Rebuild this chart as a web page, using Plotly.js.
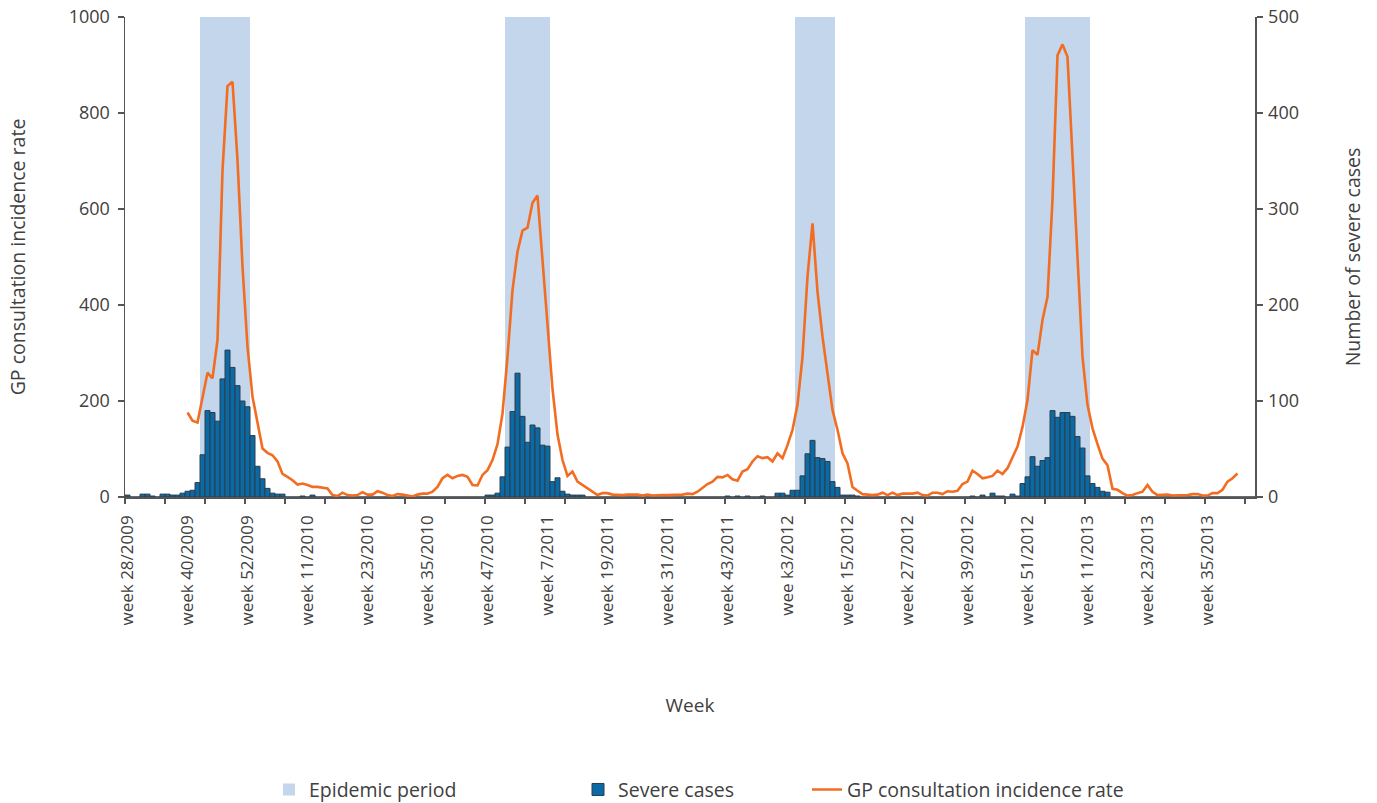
<!DOCTYPE html>
<html><head><meta charset="utf-8">
<script src="https://cdn.plot.ly/plotly-3.0.1.min.js"></script>
<style>html,body{margin:0;padding:0;background:#fff}#chart{width:1377px;height:803px}</style>
</head><body><div id="chart"></div>
<script>
// ---- data ----
const startWeek = 28, startYear = 2009;
const weeksInYear = {2009: 53, 2010: 52, 2011: 52, 2012: 52, 2013: 52};
const nWeeks = 226;

// Severe cases (right axis), one value per week starting week 28/2009
const severeCases = [
  2,0,0,3,3,1,0,3,3,2,
  2,4,6,7,15,44,90,88,79,123,
  153,135,116,100,94,64,32,19,9,4,
  3,3,0,0,0,1,0,2,0,0,
  0,0,0,0,0,0,0,0,0,0,
  0,0,0,0,0,0,0,0,0,0,
  0,0,0,0,0,0,0,0,0,0,
  0,0,2,2,4,21,52,89,129,84,
  57,75,72,54,53,16,20,6,3,2,
  2,2,0,0,0,0,0,0,0,0,
  0,0,0,0,0,0,0,0,0,0,
  0,0,0,0,0,0,0,0,0,0,
  1,0,1,0,1,0,0,1,0,0,
  4,4,2,7,7,22,45,59,41,40,
  37,16,10,2,2,2,1,0,0,0,
  0,0,0,0,0,0,0,0,0,0,
  0,0,0,0,0,0,0,0,0,1,
  0,2,0,4,1,1,0,3,1,14,
  21,42,32,38,41,90,83,88,88,84,
  63,51,22,14,10,6,5,0,0,0,
  0,0,0,0,0,0,0,0,0,0,
  0,0,0,0,0,0,0,0,0,0,
  0,0,0,0,0,0
];

// GP consultation incidence rate (left axis)
const gpRate = [
  null,null,null,null,null,null,null,null,null,null,
  null,null,176,159,155,206,259,247,327,680,
  856,865,702,480,313,209,157,101,92,87,
  74,48,42,35,26,28,25,21,21,20,
  18,4,2,9,4,3,4,10,5,5,
  12,9,4,2,6,5,3,1,5,7,
  7,11,21,39,46,39,44,46,42,25,
  24,46,56,77,110,174,292,431,511,555,
  561,613,628,500,360,225,130,77,44,53,
  32,25,18,11,4,8,8,5,4,4,
  5,5,5,3,5,3,4,4,4,4,
  5,5,7,6,11,20,27,32,42,41,
  46,37,34,53,58,74,85,81,83,74,
  91,81,108,140,192,292,459,570,428,334,
  258,181,140,91,70,21,13,6,5,4,
  5,9,4,9,4,7,7,7,9,4,
  3,9,9,6,12,11,13,27,32,55,
  48,39,41,44,55,48,60,83,105,146,
  202,306,296,369,417,620,920,943,917,709,
  501,292,192,143,110,80,66,17,15,8,
  3,4,8,11,25,11,4,5,5,3,
  3,3,4,6,6,3,3,8,8,15,
  32,39,49,null,null,null
];

const tickWeeks = ["28/2009","40/2009","52/2009","11/2010","23/2010","35/2010","47/2010","7/2011","19/2011","31/2011","43/2011","3/2012","15/2012","27/2012","39/2012","51/2012","11/2013","23/2013","35/2013"];
const tickLabels = ["week 28/2009","week 40/2009","week 52/2009","week 11/2010","week 23/2010","week 35/2010","week 47/2010","week 7/2011","week 19/2011","week 31/2011","week 43/2011","wee k3/2012","week 15/2012","week 27/2012","week 39/2012","week 51/2012","week 11/2013","week 23/2013","week 35/2013"];

const epidemicStart = ["43/2009","51/2010","5/2012","51/2012"];
const epidemicEnd   = ["52/2009","7/2011","12/2012","11/2013"];
const epidemicTop = 1000;

// ---- build ----
const weekLabels = [];
{ let w = startWeek, y = startYear;
  for (let i = 0; i < nWeeks; i++) { weekLabels.push(w + '/' + y); w++; if (w > weeksInYear[y]) { w = 1; y++; } } }
const idx = weekLabels.map((_, i) => i);
const widx = s => weekLabels.indexOf(s);

const epiX = [], epiW = [], epiY = [];
for (let k = 0; k < epidemicStart.length; k++) {
  const s = widx(epidemicStart[k]), e = widx(epidemicEnd[k]);
  epiX.push((s + e) / 2); epiW.push(e - s + 1); epiY.push(epidemicTop);
}
const minorTicks = [];
for (let v = -0.5; v <= nWeeks - 0.5; v += 8) minorTicks.push(v);

const FONT = 'Open Sans, sans-serif';
const TXT = '#404040';
const AX = '#555555';

const traces = [
  {type: 'bar', name: 'Epidemic period', x: epiX, y: epiY, width: epiW,
   marker: {color: '#c3d6eb', line: {width: 0}}, xaxis: 'x', yaxis: 'y',
   legend: 'legend', hoverinfo: 'skip'},
  {type: 'bar', name: 'Severe cases', x: idx, y: severeCases, width: 1,
   marker: {color: '#0a6aa6', line: {color: '#2e3c48', width: 1}}, xaxis: 'x', yaxis: 'y2',
   legend: 'legend2'},
  {type: 'scatter', mode: 'lines', name: 'GP consultation incidence rate', x: idx, y: gpRate,
   line: {color: '#f26d21', width: 2.6}, xaxis: 'x2', yaxis: 'y3', legend: 'legend3'}
];

const rng = [-0.5, nWeeks - 0.5];
const legY = -0.61;
const legFont = {size: 19.5, color: TXT};
const layout = {
  width: 1377, height: 803,
  margin: {l: 125, r: 122, t: 17, b: 306, autoexpand: false},
  paper_bgcolor: '#fff', plot_bgcolor: 'rgba(0,0,0,0)',
  font: {family: FONT, size: 18, color: TXT},
  barmode: 'overlay', bargap: 0,
  showlegend: true,
  xaxis: {range: rng, showgrid: false, zeroline: false, showline: true, linecolor: AX, linewidth: 1.5,
          tickmode: 'array', tickvals: tickWeeks.map(widx), ticktext: tickLabels, ticks: '',
          tickangle: -90, tickfont: {size: 17, color: TXT}, ticklabelstandoff: 10, automargin: false,
          title: {text: 'Week', font: {size: 19, color: TXT}, standoff: 74}},
  xaxis2: {range: rng, overlaying: 'x', anchor: 'y', side: 'bottom', showgrid: false, zeroline: false,
           showline: false, tickmode: 'array', tickvals: minorTicks, showticklabels: false,
           ticks: 'outside', ticklen: 6, tickcolor: AX, tickwidth: 1.5, automargin: false},
  yaxis: {range: [0, 1000], tickmode: 'array', tickvals: [0,200,400,600,800,1000], showgrid: false, zeroline: false,
          showline: true, linecolor: AX, linewidth: 1.5, ticks: 'outside', ticklen: 6, tickcolor: AX,
          tickwidth: 1.5, tickfont: {size: 18, color: TXT}, ticklabelstandoff: 4, automargin: false,
          title: {text: 'GP consultation incidence rate', font: {size: 19.5, color: TXT}, standoff: 38}},
  yaxis2: {range: [0, 500], overlaying: 'y', side: 'right', anchor: 'x', tickmode: 'array',
           tickvals: [0,100,200,300,400,500], showgrid: false, zeroline: false, showline: true,
           linecolor: AX, linewidth: 1.5, ticks: 'outside', ticklen: 6, tickcolor: AX, tickwidth: 1.5,
           tickfont: {size: 18, color: TXT}, ticklabelstandoff: 2, automargin: false,
           title: {text: 'Number of severe cases', font: {size: 19.5, color: TXT}, standoff: 48}},
  yaxis3: {range: [0, 1000], overlaying: 'y', anchor: 'x2', visible: false},
  legend:  {x: (269 - 125) / 1130, y: legY, xanchor: 'left', yanchor: 'middle', orientation: 'h',
            font: legFont, bgcolor: 'rgba(0,0,0,0)'},
  legend2: {x: (578 - 125) / 1130, y: legY, xanchor: 'left', yanchor: 'middle', orientation: 'h',
            font: legFont, bgcolor: 'rgba(0,0,0,0)'},
  legend3: {x: (807 - 125) / 1130, y: legY, xanchor: 'left', yanchor: 'middle', orientation: 'h',
            font: legFont, bgcolor: 'rgba(0,0,0,0)'}
};

Plotly.newPlot('chart', traces, layout, {displayModeBar: false, staticPlot: true});
</script>
</body></html>
